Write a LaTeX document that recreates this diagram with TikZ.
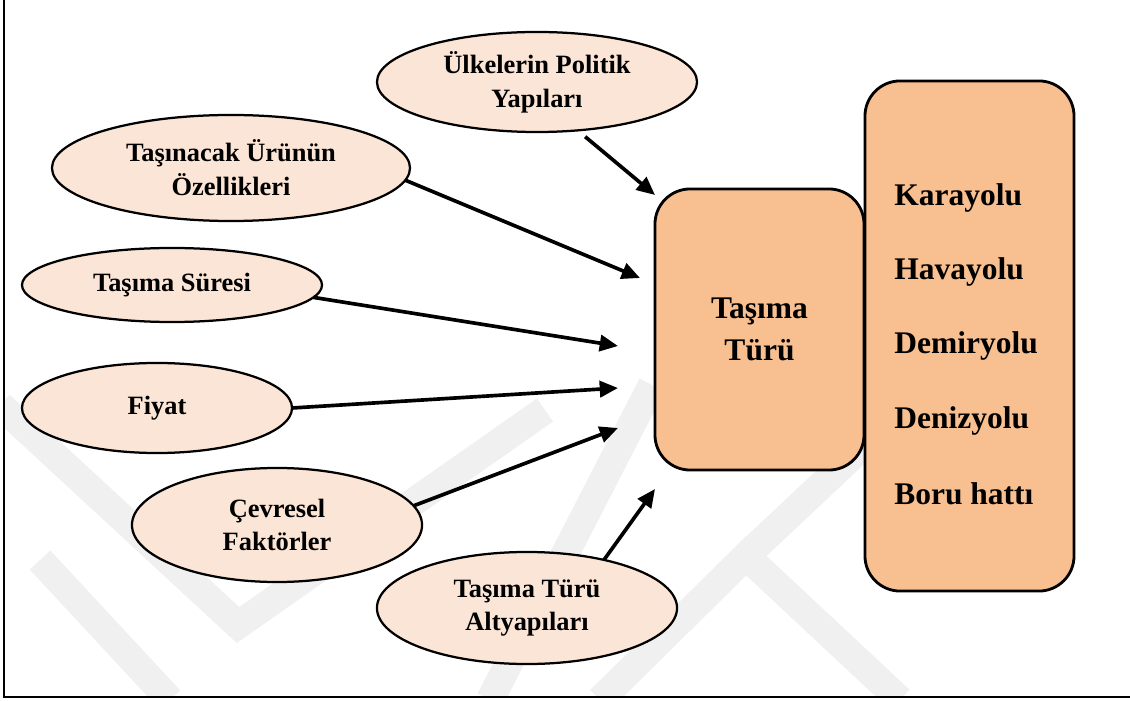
\documentclass[tikz,border=0pt]{standalone}
\usepackage{fontspec}
\setmainfont{Liberation Serif}
\usetikzlibrary{arrows.meta,shapes.geometric}
\definecolor{ovalfill}{HTML}{FBE5D6}
\definecolor{boxfill}{HTML}{F8C090}
\definecolor{wmgray}{HTML}{F0F0F0}
\begin{document}
\begin{tikzpicture}[x=0.025cm,y=-0.025cm,
  oval/.style={ellipse, draw, line width=1.6pt, fill=ovalfill, inner sep=0pt,
    outer sep=0pt, align=center, font=\fontsize{18.8}{24}\selectfont\bfseries},
  kindbox/.style={draw, line width=2pt, fill=boxfill, rounded corners=25pt,
    inner sep=0pt, outer sep=0pt},
  big/.style={font=\fontsize{22.4}{30}\selectfont\bfseries},
  arr/.style={line width=2.6pt, -{Triangle[length=13pt,width=11.5pt]}},
  wm/.style={draw=wmgray, line width=20pt, line join=miter}]
\useasboundingbox (0,0) rectangle (1130,701);

% faint background watermark
\begin{scope}
  \clip (4,0) rectangle (1130,697);
  \draw[wm] (0,405) -- (238,625) -- (545,410);
  \draw[wm] (490,700) -- (652,385);
  \draw[wm] (600,700) -- (746,556) -- (900,700);
  \draw[wm] (746,556) -- (880,430);
  \draw[wm] (40,560) -- (170,700);
\end{scope}

% frame
\draw[line width=1.5pt] (4,0) -- (4,697) -- (1130,697);

% influencing factors
\node[oval, minimum width=8cm,    minimum height=2.5cm]  (e1) at (537,82)  {Ülkelerin Politik\\Yapıları};
\node[oval, minimum width=8.95cm, minimum height=2.65cm] (e2) at (231,168) {Taşınacak Ürünün\\Özellikleri};
\node[oval, minimum width=7.5cm,  minimum height=1.85cm] (e3) at (172,285) {Taşıma Süresi};
\node[oval, minimum width=6.75cm, minimum height=2.25cm] (e4) at (157,408) {Fiyat};
\node[oval, minimum width=7.25cm, minimum height=2.85cm] (e5) at (277,525) {Çevresel\\Faktörler};
\node[oval, minimum width=7.5cm,  minimum height=2.8cm]  (e6) at (527,608) {Taşıma Türü\\Altyapıları};

% list of transport modes
\node[kindbox, minimum width=5.225cm, minimum height=12.75cm] (modes) at (969.5,336) {};
\node[big, inner sep=0pt, anchor=base west] (m1) at (894,206) {Karayolu};
\node[big, inner sep=0pt, anchor=base west] (m2) at (894,280) {Havayolu};
\node[big, inner sep=0pt, anchor=base west] (m3) at (894,354) {Demiryolu};
\node[big, inner sep=0pt, anchor=base west] (m4) at (894,428) {Denizyolu};
\node[big, inner sep=0pt, anchor=base west] (m5) at (894,504) {Boru hattı};

% central box
\node[kindbox, big, align=center, minimum width=5.225cm, minimum height=7.025cm]
  (mode) at (759.5,329.5) {Taşıma\\Türü};

% arrow ends in front of the central box
\coordinate (t1) at (655,195);
\coordinate (t2) at (640,278);
\coordinate (t3) at (618,346);
\coordinate (t4) at (618,388);
\coordinate (t5) at (618,428);
\coordinate (t6) at (655,489);

\draw[arr, shorten <=7pt] (e1.-50) -- (t1);
\draw[arr] (e2.-4) -- (t2);
\draw[arr] (e3.-5) -- (t3);
\draw[arr] (e4.east) -- (t4);
\draw[arr] (e5.8) -- (t5);
\draw[arr] (e6.32) -- (t6);
\end{tikzpicture}
\end{document}
